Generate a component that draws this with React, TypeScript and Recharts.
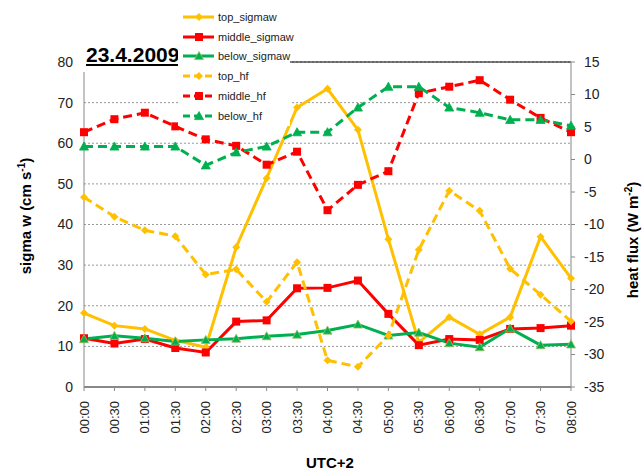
import { LineChart, Line, XAxis, YAxis, CartesianGrid, ReferenceLine } from "recharts";

const times = [
  "00:00", "00:30", "01:00", "01:30", "02:00", "02:30", "03:00", "03:30", "04:00",
  "04:30", "05:00", "05:30", "06:00", "06:30", "07:00", "07:30", "08:00",
];
const topSigmaw = [18.2, 15.1, 14.3, 11.5, 9.8, 34.4, 51.4, 68.8, 73.4, 63.3, 36.4, 11.0, 17.2, 13.0, 17.2, 37.0, 26.8];
const middleSigmaw = [12.0, 10.7, 11.8, 9.6, 8.5, 16.1, 16.4, 24.3, 24.4, 26.2, 18.0, 10.3, 11.8, 11.6, 14.3, 14.5, 15.1];
const belowSigmaw = [11.8, 12.6, 12.0, 11.2, 11.6, 11.9, 12.5, 12.9, 13.9, 15.4, 12.7, 13.4, 10.8, 9.8, 14.4, 10.3, 10.5];
const topHf = [-5.8, -8.8, -10.9, -11.8, -17.7, -16.9, -21.9, -15.8, -30.9, -31.9, -27.1, -13.9, -4.8, -7.9, -16.8, -20.8, -24.9];
const middleHf = [4.2, 6.2, 7.2, 5.1, 3.1, 2.1, -0.8, 1.2, -7.8, -3.9, -1.8, 10.2, 11.2, 12.2, 9.2, 6.4, 4.2];
const belowHf = [2.0, 2.0, 2.0, 2.0, -0.9, 1.1, 2.0, 4.2, 4.2, 8.0, 11.2, 11.2, 8.0, 7.2, 6.1, 6.1, 5.2];

const leftTicks = [0, 10, 20, 30, 40, 50, 60, 70, 80];
const rightTicks = [-35, -30, -25, -20, -15, -10, -5, 0, 5, 10, 15];

const ORANGE = "#FFC000";
const RED = "#FF0000";
const GREEN = "#00B050";
const FONT = "Arial, 'Liberation Sans', sans-serif";

const data = times.map((t, i) => ({
  time: t,
  topSigmaw: topSigmaw[i],
  middleSigmaw: middleSigmaw[i],
  belowSigmaw: belowSigmaw[i],
  topHf: topHf[i],
  middleHf: middleHf[i],
  belowHf: belowHf[i],
}));

type Shape = "diamond" | "square" | "triangle";

function marker(shape: Shape, color: string, x: number, y: number, key?: string | number, edge?: string) {
  if (shape === "diamond") {
    const r = 4;
    return <polygon key={key} points={`${x},${y - r} ${x + r},${y} ${x},${y + r} ${x - r},${y}`} fill={color} />;
  }
  if (shape === "square") {
    const r = 4;
    return <rect key={key} x={x - r} y={y - r} width={r * 2} height={r * 2} fill={color} />;
  }
  const r = 4.5;
  return (
    <polygon
      key={key}
      points={`${x},${y - r} ${x + r},${y + r * 0.8} ${x - r},${y + r * 0.8}`}
      fill={color}
      stroke={edge || color}
      strokeWidth={0.8}
    />
  );
}

const dotFor = (shape: Shape, color: string, edge?: string) => (p: any) =>
  marker(shape, color, p.cx, p.cy, p.index, edge);

const series = [
  { key: "topSigmaw", name: "top_sigmaw", color: ORANGE, shape: "diamond" as Shape, dash: undefined, axis: "left" },
  { key: "middleSigmaw", name: "middle_sigmaw", color: RED, shape: "square" as Shape, dash: undefined, axis: "left" },
  { key: "belowSigmaw", name: "below_sigmaw", color: GREEN, shape: "triangle" as Shape, dash: undefined, axis: "left", edge: "#9BBB59" },
  { key: "topHf", name: "top_hf", color: ORANGE, shape: "diamond" as Shape, dash: "9 5", axis: "right" },
  { key: "middleHf", name: "middle_hf", color: RED, shape: "square" as Shape, dash: "9 5", axis: "right" },
  { key: "belowHf", name: "below_hf", color: GREEN, shape: "triangle" as Shape, dash: "9 5", axis: "right" },
];

const XTick = (props: any) => {
  const { x, y, payload } = props;
  return (
    <text
      x={x}
      y={y + 10}
      transform={`rotate(-90 ${x} ${y + 10})`}
      textAnchor="end"
      dy="0.35em"
      fontSize={13}
      fontFamily={FONT}
      fill="#222"
    >
      {payload.value}
    </text>
  );
};

export default function App() {
  return (
    <div style={{ position: "absolute", left: 0, top: 0, width: 644, height: 472, background: "#fff", fontFamily: FONT }}>
      <LineChart width={644} height={472} data={data} margin={{ top: 62, right: 0, bottom: 0, left: 0 }}>
        <CartesianGrid yAxisId="left" vertical={false} stroke="#999" strokeDasharray="2 2" />
        <XAxis
          dataKey="time"
          height={85}
          interval={0}
          tick={<XTick />}
          tickSize={4}
          tickMargin={0}
          stroke="#888"
          strokeWidth={2}
          tickLine={{ stroke: "#888", strokeWidth: 1 }}
        />
        <YAxis
          yAxisId="left"
          width={84}
          domain={[0, 80]}
          ticks={leftTicks}
          tickLine={false}
          tickSize={0}
          tickMargin={11}
          stroke="#888"
          tick={{ fontSize: 14, fill: "#222", fontFamily: FONT }}
        />
        <YAxis
          yAxisId="right"
          orientation="right"
          width={73}
          domain={[-35, 15]}
          ticks={rightTicks}
          tickSize={4}
          tickMargin={9}
          stroke="#888"
          tick={{ fontSize: 14, fill: "#222", fontFamily: FONT }}
        />
        <ReferenceLine yAxisId="left" y={80} stroke="#000" strokeWidth={1} />
        {series.map((s) => (
          <Line
            key={s.key}
            yAxisId={s.axis}
            dataKey={s.key}
            stroke={s.color}
            strokeWidth={3}
            strokeDasharray={s.dash}
            dot={dotFor(s.shape, s.color, s.edge)}
            activeDot={false}
            isAnimationActive={false}
          />
        ))}
      </LineChart>

      <div
        style={{
          position: "absolute", left: 82, top: 38, width: 96, height: 34, background: "#fff",
          fontWeight: "bold", fontSize: 21, textDecoration: "underline", color: "#000", lineHeight: "34px",
          paddingLeft: 4, boxSizing: "border-box",
        }}
      >
        23.4.2009
      </div>

      <div style={{ position: "absolute", left: 178, top: 2, width: 112, height: 124, background: "#fff" }}>
        {series.map((s, i) => (
          <div key={s.key} style={{ position: "absolute", left: 0, top: 5 + i * 19.7, height: 20, display: "flex", alignItems: "center" }}>
            <svg width={38} height={20}>
              <line x1={5} x2={36} y1={10} y2={10} stroke={s.color} strokeWidth={3} strokeDasharray={s.dash ? "7 4" : undefined} />
              {marker(s.shape, s.color, 21, 10, undefined, s.edge)}
            </svg>
            <span style={{ fontSize: 11, color: "#222", marginLeft: 2 }}>{s.name}</span>
          </div>
        ))}
      </div>

      <div
        style={{
          position: "absolute", left: 25, top: 216, transform: "translate(-50%, -50%) rotate(-90deg)",
          whiteSpace: "nowrap", fontWeight: "bold", fontSize: 15, color: "#000",
        }}
      >
        sigma w (cm s<sup style={{ fontSize: 10 }}>-1</sup>)
      </div>
      <div
        style={{
          position: "absolute", left: 632, top: 240, transform: "translate(-50%, -50%) rotate(-90deg)",
          whiteSpace: "nowrap", fontWeight: "bold", fontSize: 15, color: "#000",
        }}
      >
        heat flux (W m<sup style={{ fontSize: 10 }}>-2</sup>)
      </div>
      <div
        style={{
          position: "absolute", left: 330, top: 462, transform: "translate(-50%, -50%)",
          whiteSpace: "nowrap", fontWeight: "bold", fontSize: 15, color: "#000",
        }}
      >
        UTC+2
      </div>
    </div>
  );
}
